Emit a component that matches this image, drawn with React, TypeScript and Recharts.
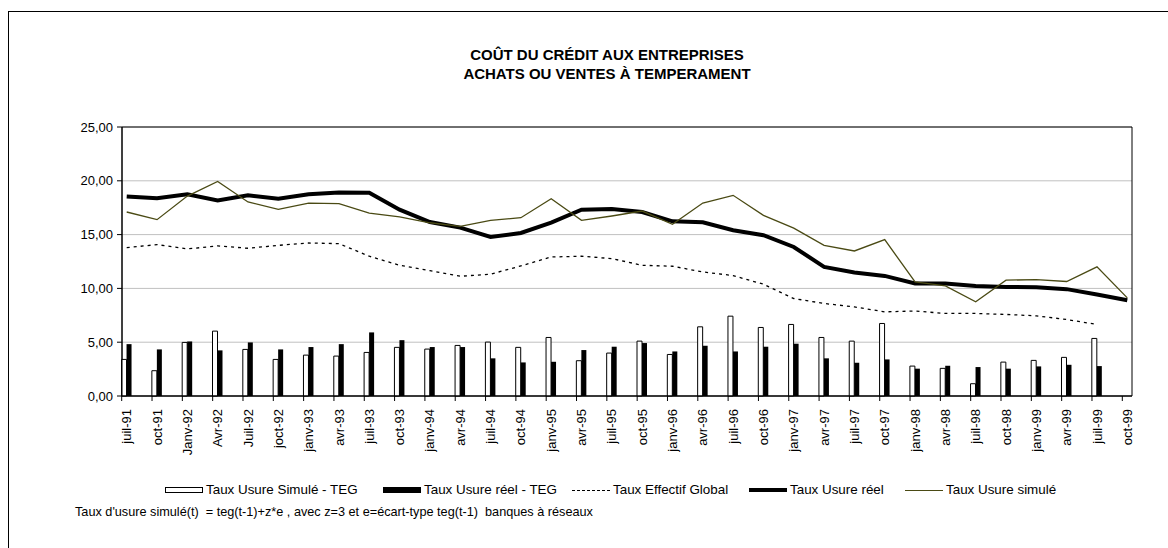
import { ComposedChart, Bar, Line, XAxis, YAxis, CartesianGrid, ReferenceArea } from 'recharts';

const categories = [
  'juil-91', 'oct-91', 'Janv-92', 'Avr-92', 'Juil-92', 'joct-92', 'janv-93', 'avr-93', 'juil-93', 'oct-93',
  'janv-94', 'avr-94', 'juil-94', 'oct-94', 'janv-95', 'avr-95', 'juil-95', 'oct-95', 'janv-96', 'avr-96',
  'juil-96', 'oct-96', 'janv-97', 'avr-97', 'juil-97', 'oct-97', 'janv-98', 'avr-98', 'juil-98', 'oct-98',
  'janv-99', 'avr-99', 'juil-99', 'oct-99',
];

// Taux Usure réel
const usureReel = [
  18.55, 18.37, 18.74, 18.18, 18.65, 18.34, 18.74, 18.92, 18.89, 17.32,
  16.17, 15.65, 14.78, 15.15, 16.11, 17.32, 17.38, 17.1, 16.23, 16.14,
  15.4, 14.94, 13.85, 12.0, 11.47, 11.16, 10.45, 10.45, 10.23, 10.14,
  10.11, 9.93, 9.43, 8.9,
];

// Taux Usure simulé
const usureSimule = [
  17.1, 16.39, 18.58, 19.94, 18.03, 17.35, 17.93, 17.87, 17.0, 16.64,
  16.1, 15.77, 16.33, 16.57, 18.34, 16.33, 16.73, 17.19, 15.96, 17.93,
  18.65, 16.79, 15.6, 14.0, 13.48, 14.53, 10.6, 10.23, 8.75, 10.76,
  10.82, 10.64, 12.0, 9.12,
];

// Taux Effectif Global
const teg = [
  13.79, 14.07, 13.67, 13.95, 13.73, 14.0, 14.22, 14.16, 12.99, 12.15,
  11.65, 11.13, 11.32, 12.09, 12.92, 12.99, 12.77, 12.15, 12.06, 11.53,
  11.19, 10.39, 9.06, 8.6, 8.28, 7.82, 7.9, 7.67, 7.67, 7.58,
  7.45, 7.11, 6.65, null,
];

// Taux Usure Simulé - TEG
const ecartSimule = [
  3.4, 2.35, 4.98, 6.03, 4.33, 3.4, 3.8, 3.71, 4.05, 4.52,
  4.36, 4.7, 5.01, 4.52, 5.44, 3.28, 3.99, 5.1, 3.86, 6.43,
  7.42, 6.37, 6.65, 5.44, 5.1, 6.74, 2.78, 2.57, 1.14, 3.15,
  3.31, 3.59, 5.35, null,
];

// Taux Usure réel - TEG
const ecartReel = [
  4.82, 4.33, 5.07, 4.24, 4.98, 4.33, 4.55, 4.82, 5.91, 5.19,
  4.55, 4.55, 3.5, 3.12, 3.18, 4.27, 4.58, 4.92, 4.14, 4.67,
  4.14, 4.58, 4.86, 3.5, 3.09, 3.4, 2.54, 2.81, 2.69, 2.54,
  2.75, 2.9, 2.78, null,
];

const yTicks = [0, 5, 10, 15, 20, 25];

const data = categories.map((c, i) => ({
  idx: i,
  cat: c,
  ecartSimule: ecartSimule[i],
  ecartReel: ecartReel[i],
  teg: teg[i],
  usureReel: usureReel[i],
  usureSimule: usureSimule[i],
}));

const FONT = '"Liberation Sans", Arial, sans-serif';
const OLIVE = '#4a4a14';

function XTick(props: any) {
  const { x, y, payload } = props;
  return (
    <g>
      <line x1={x - 5} x2={x - 5} y1={y} y2={y + 5} stroke="#000" />
      <text
        transform={`translate(${x},${y + 13}) rotate(-90)`}
        textAnchor="end"
        dy="0.35em"
        fontSize={13}
        fontFamily={FONT}
        fill="#000"
      >
        {categories[payload.value]}
      </text>
    </g>
  );
}

const legendItems = [
  { label: 'Taux Usure Simulé - TEG', left: 165, kind: 'whiteBox' },
  { label: 'Taux Usure réel - TEG', left: 383, kind: 'blackBox' },
  { label: 'Taux Effectif Global', left: 572, kind: 'dotted' },
  { label: 'Taux Usure réel', left: 749, kind: 'thick' },
  { label: 'Taux Usure simulé', left: 905, kind: 'olive' },
];

function Marker({ kind }: { kind: string }) {
  const base: any = { display: 'inline-block', width: 38, verticalAlign: 'middle', boxSizing: 'border-box' };
  if (kind === 'whiteBox') return <span style={{ ...base, height: 6, border: '1px solid #000', background: '#fff' }} />;
  if (kind === 'blackBox') return <span style={{ ...base, height: 6, background: '#000' }} />;
  if (kind === 'dotted') return <span style={{ ...base, height: 0, borderTop: '1px dashed #000' }} />;
  if (kind === 'thick') return <span style={{ ...base, height: 4, background: '#000' }} />;
  return <span style={{ ...base, height: 0, borderTop: `1.5px solid ${OLIVE}` }} />;
}

export default function App() {
  return (
    <div style={{ position: 'absolute', left: 0, top: 0, width: 1168, height: 548, overflow: 'hidden', background: '#fff', fontFamily: FONT }}>
      <div style={{ position: 'absolute', left: 8, top: 11, width: 1200, height: 600, border: '1px solid #000' }} />
      <div style={{ position: 'absolute', left: 0, width: 1214, top: 45, textAlign: 'center', fontWeight: 'bold', fontSize: 15, lineHeight: '19px', color: '#000' }}>
        COÛT DU CRÉDIT AUX ENTREPRISES
        <br />
        ACHATS OU VENTES À TEMPERAMENT
      </div>
      <div style={{ position: 'absolute', left: 0, top: 0 }}>
        <ComposedChart
          width={1168}
          height={548}
          data={data}
          margin={{ top: 127, right: 36, bottom: 92, left: 62 }}
          barGap={0}
        >
          <CartesianGrid horizontal vertical={false} stroke="#c0c0c0" />
          <XAxis
            dataKey="idx"
            type="number"
            domain={[-0.155, 33.155]}
            ticks={data.map((d) => d.idx)}
            interval={0}
            height={60}
            tickLine={false}
            tickSize={0}
            tickMargin={0}
            axisLine={{ stroke: '#000' }}
            tick={<XTick />}
          />
          <YAxis
            type="number"
            domain={[0, 25]}
            ticks={yTicks}
            width={60}
            tickSize={5}
            tickMargin={4}
            axisLine={{ stroke: '#000' }}
            tickLine={{ stroke: '#000' }}
            tick={{ fontSize: 13, fontFamily: FONT, fill: '#000' }}
            tickFormatter={(v: number) => v.toFixed(2).replace('.', ',')}
          />
          <Bar dataKey="ecartSimule" fill="#fff" stroke="#000" strokeWidth={1} barSize={5} isAnimationActive={false} />
          <Bar dataKey="ecartReel" fill="#000" barSize={5} isAnimationActive={false} />
          <Line dataKey="teg" stroke="#000" strokeWidth={1.3} strokeDasharray="3 4" dot={false} isAnimationActive={false} />
          <Line dataKey="usureReel" stroke="#000" strokeWidth={4} dot={false} isAnimationActive={false} />
          <Line dataKey="usureSimule" stroke={OLIVE} strokeWidth={1.3} dot={false} isAnimationActive={false} />
          <ReferenceArea x1={-0.155} x2={33.155} y1={0} y2={25} fill="none" stroke="#000" strokeWidth={1} ifOverflow="visible" />
        </ComposedChart>
      </div>
      {legendItems.map((it) => (
        <div key={it.label} style={{ position: 'absolute', left: it.left, top: 481, fontSize: 13.4, lineHeight: '18px', whiteSpace: 'nowrap', color: '#000' }}>
          <Marker kind={it.kind} />
          <span style={{ marginLeft: 3, verticalAlign: 'middle' }}>{it.label}</span>
        </div>
      ))}
      <div style={{ position: 'absolute', left: 75, top: 505, fontSize: 12.7, whiteSpace: 'pre', color: '#000' }}>
        {"Taux d'usure simulé(t)  = teg(t-1)+z*e , avec z=3 et e=écart-type teg(t-1)  banques à réseaux"}
      </div>
    </div>
  );
}
